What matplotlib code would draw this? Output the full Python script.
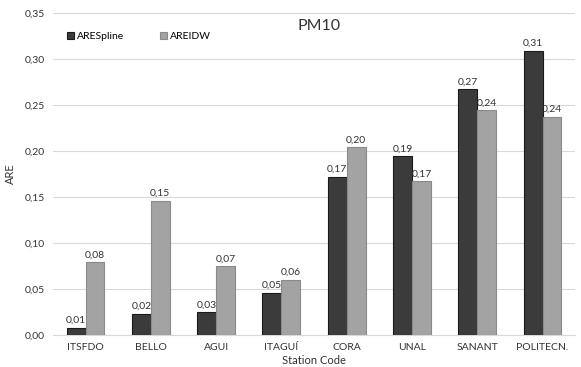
import numpy as np
import matplotlib
import matplotlib.pyplot as plt
from matplotlib.ticker import FuncFormatter, MultipleLocator

matplotlib.use('Agg')
plt.rcParams['font.family'] = ['Lato', 'DejaVu Sans']

stations = ['ITSFDO', 'BELLO', 'AGUI', 'ITAGUÍ', 'CORA', 'UNAL', 'SANANT', 'POLITECN.']
are_spline = [0.008, 0.023, 0.025, 0.046, 0.172, 0.194, 0.267, 0.309]
are_idw = [0.079, 0.146, 0.075, 0.060, 0.204, 0.167, 0.244, 0.237]


def comma(v, pos=None):
    return f'{v:.2f}'.replace('.', ',')


fig = plt.figure(figsize=(5.81, 3.67), dpi=100)
ax = fig.add_axes([0.091, 0.087, 0.899, 0.878])

x = np.arange(len(stations))
w = 0.29
b1 = ax.bar(x - w / 2, are_spline, w, color='#3b3b3b', edgecolor='#1a1a1a', linewidth=0.8, label='ARESpline', zorder=3)
b2 = ax.bar(x + w / 2, are_idw, w, color='#a3a3a3', edgecolor='#8a8a8a', linewidth=0.8, label='AREIDW', zorder=3)

for bars in (b1, b2):
    for r in bars:
        ax.text(r.get_x() + r.get_width() / 2, r.get_height() + 0.003, comma(r.get_height()),
                ha='center', va='bottom', fontsize=7.5, color='#333333')

ax.set_ylim(0, 0.35)
ax.set_xlim(-0.5, len(stations) - 0.5)
ax.yaxis.set_major_locator(MultipleLocator(0.05))
ax.yaxis.set_major_formatter(FuncFormatter(comma))
ax.set_xticks(x)
ax.set_xticklabels(stations)
ax.tick_params(axis='both', length=0, labelsize=7.5, colors='#333333')
ax.tick_params(axis='y', pad=6)
ax.tick_params(axis='x', pad=6)
ax.grid(axis='y', color='#d9d9d9', linewidth=0.8, zorder=0)
for s in ['top', 'right', 'left']:
    ax.spines[s].set_visible(False)
ax.spines['bottom'].set_color('#d9d9d9')

ax.set_ylabel('ARE', fontsize=8, color='#333333', labelpad=6)
ax.set_xlabel('Station Code', fontsize=8, color='#333333', labelpad=2)
ax.set_title('PM10', fontsize=11.5, color='#333333', x=0.51, y=0.955, va='top')

ax.legend(loc='upper left', bbox_to_anchor=(0.01, 0.97), ncol=2, frameon=False, fontsize=7.5,
          handlelength=0.6, handleheight=0.6, columnspacing=3.5, handletextpad=0.3)

fig.savefig('out.png', dpi=100)
